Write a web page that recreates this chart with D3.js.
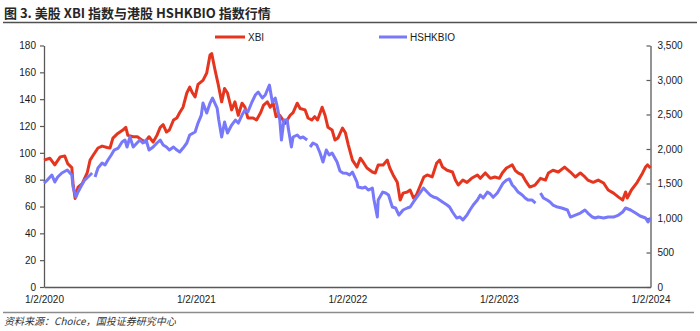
<!DOCTYPE html>
<html>
<head>
<meta charset="utf-8">
<script src="https://cdn.jsdelivr.net/npm/d3@7"></script>
<style>
  html, body { margin: 0; padding: 0; background: #fff; }
  svg { display: block; }
</style>
</head>
<body>
<svg id="chart" width="700" height="331"></svg>
<script>
// XBI index (left axis)
const xbi = [
  ["2020-01-02",94.6],["2020-01-16",96],["2020-01-28",91],["2020-02-10",97],["2020-02-21",97.6],["2020-02-28",92],
  ["2020-03-09",89],["2020-03-12",77],["2020-03-17",66],["2020-03-24",74.5],["2020-04-03",77],["2020-04-15",85],
  ["2020-04-22",94.6],["2020-04-29",98],["2020-05-11",103.6],["2020-05-21",105],["2020-06-02",104],["2020-06-09",103.6],
  ["2020-06-16",111],["2020-06-26",114],["2020-07-10",117],["2020-07-17",119],["2020-07-22",113],["2020-08-04",112],
  ["2020-08-14",112],["2020-08-25",109.5],["2020-09-01",108],["2020-09-11",112],["2020-09-21",108],["2020-09-30",113],
  ["2020-10-08",119],["2020-10-15",121],["2020-10-23",115.5],["2020-10-30",117],["2020-11-09",124.5],["2020-11-17",126],
  ["2020-11-24",130],["2020-12-02",134],["2020-12-11",144.6],["2020-12-18",149],["2020-12-24",145],["2020-12-31",141.6],
  ["2021-01-07",151],["2021-01-19",154],["2021-01-28",159.5],["2021-02-05",173],["2021-02-09",174],["2021-02-17",161.7],
  ["2021-02-24",152],["2021-03-05",138],["2021-03-12",148],["2021-03-19",144.6],["2021-03-29",132],["2021-04-06",138],
  ["2021-04-14",128],["2021-04-23",137],["2021-04-30",134],["2021-05-07",126],["2021-05-20",126],["2021-05-28",124.5],
  ["2021-06-07",130],["2021-06-14",135.6],["2021-06-23",138],["2021-06-30",134],["2021-07-07",137],["2021-07-14",127],
  ["2021-07-23",128],["2021-08-05",122],["2021-08-17",128],["2021-08-24",130],["2021-09-03",137],["2021-09-10",133],
  ["2021-09-22",132],["2021-09-29",126],["2021-10-08",124.5],["2021-10-15",127],["2021-10-22",124.5],["2021-11-02",134],
  ["2021-11-09",128],["2021-11-16",119],["2021-11-26",117],["2021-12-03",109.5],["2021-12-10",111],["2021-12-21",118.5],
  ["2021-12-28",115],["2022-01-04",106],["2022-01-14",94.6],["2022-01-25",89.4],["2022-02-02",96],["2022-02-09",93],
  ["2022-02-18",88.7],["2022-03-03",85.7],["2022-03-10",85],["2022-03-17",91],["2022-03-29",91],["2022-04-08",94.6],
  ["2022-04-14",88.7],["2022-04-22",83.5],["2022-05-02",78],["2022-05-09",64.8],["2022-05-16",70],["2022-05-26",70.8],
  ["2022-06-02",72.3],["2022-06-10",66.3],["2022-06-17",68.6],["2022-06-27",76],["2022-07-05",82],["2022-07-13",83.5],
  ["2022-07-25",82],["2022-08-05",92.4],["2022-08-12",94.6],["2022-08-19",89.4],["2022-08-30",87],["2022-09-12",85.7],
  ["2022-09-19",79.7],["2022-09-26",76],["2022-10-07",79.7],["2022-10-17",78],["2022-10-28",81],["2022-11-11",83.5],
  ["2022-11-18",81],["2022-11-30",85],["2022-12-12",81],["2022-12-23",82],["2023-01-03",81],["2023-01-10",85],
  ["2023-01-20",88.7],["2023-02-03",91],["2023-02-10",87],["2023-02-17",85],["2023-02-27",83.5],["2023-03-06",79.7],
  ["2023-03-17",74.5],["2023-03-30",76],["2023-04-12",81],["2023-04-24",79.7],["2023-05-01",85],["2023-05-12",87],
  ["2023-05-25",85.7],["2023-06-09",89.4],["2023-06-23",85.7],["2023-07-05",82],["2023-07-17",85],["2023-07-28",82],
  ["2023-08-04",79.7],["2023-08-17",78],["2023-08-29",79.7],["2023-09-11",77.5],["2023-09-22",72.3],["2023-10-05",70],
  ["2023-10-17",67],["2023-10-27",64.8],["2023-11-03",70.8],["2023-11-07",66.3],["2023-11-17",72.3],["2023-12-01",78],
  ["2023-12-14",85],["2023-12-21",89.4],["2023-12-26",91],["2024-01-02",88.7]
];

// HSHKBIO index (right axis); null marks days with no quote
const hshkbio = [
  ["2020-01-02",1507],["2020-01-10",1550],["2020-01-21",1623],["2020-01-28",1521],["2020-02-04",1594],["2020-02-14",1652],
  ["2020-02-27",1695],["2020-03-09",1623],["2020-03-12",1449],["2020-03-19",1304],["2020-03-24",1377],["2020-04-02",1478],
  ["2020-04-09",1550],["2020-04-17",1594],["2020-04-27",1652],["2020-04-29",null],["2020-05-04",1594],["2020-05-11",1724],
  ["2020-05-21",1797],["2020-05-28",1768],["2020-06-04",1840],["2020-06-12",1913],["2020-06-19",1985],["2020-06-29",2014],
  ["2020-07-08",2101],["2020-07-15",2130],["2020-07-20",2029],["2020-07-27",2174],["2020-08-04",2029],["2020-08-13",2087],
  ["2020-08-20",2130],["2020-08-27",2087],["2020-09-04",2130],["2020-09-11",1985],["2020-09-21",2029],["2020-09-30",2087],
  ["2020-10-08",2130],["2020-10-15",2058],["2020-10-23",2029],["2020-10-30",1985],["2020-11-09",2029],["2020-11-17",1985],
  ["2020-11-24",1956],["2020-12-02",2014],["2020-12-11",2087],["2020-12-18",2203],["2020-12-31",2246],["2021-01-07",2376],
  ["2021-01-15",2492],["2021-01-19",2666],["2021-01-28",2521],["2021-02-05",2666],["2021-02-11",2739],["2021-02-22",2594],
  ["2021-02-26",2420],["2021-03-05",2174],["2021-03-12",2391],["2021-03-19",2232],["2021-03-29",2347],["2021-04-07",2420],
  ["2021-04-14",2376],["2021-04-23",2492],["2021-04-30",2565],["2021-05-07",2536],["2021-05-17",2681],["2021-05-25",2782],
  ["2021-06-01",2826],["2021-06-11",2739],["2021-06-18",2782],["2021-06-23",2855],["2021-06-28",2927],["2021-07-05",2681],
  ["2021-07-12",2739],["2021-07-16",2637],["2021-07-23",2420],["2021-07-27",2130],["2021-08-02",2420],["2021-08-10",2420],
  ["2021-08-12",2318],["2021-08-20",2029],["2021-08-24",2174],["2021-09-03",2203],["2021-09-10",2159],["2021-09-17",2174],
  ["2021-09-27",2130],["2021-09-30",null],["2021-10-04",2029],["2021-10-11",2087],["2021-10-20",2058],["2021-10-28",1942],
  ["2021-11-04",1811],["2021-11-12",1985],["2021-11-19",1913],["2021-11-26",1942],["2021-12-08",1811],["2021-12-15",1680],
  ["2021-12-22",1652],["2021-12-31",1650],["2022-01-07",1623],["2022-01-14",1666],["2022-01-25",1521],["2022-01-27",1449],
  ["2022-02-07",1434],["2022-02-14",1449],["2022-02-21",1405],["2022-03-03",1434],["2022-03-07",1260],["2022-03-15",1014],
  ["2022-03-17",1260],["2022-03-28",1376],["2022-04-04",1362],["2022-04-11",1333],["2022-04-20",1159],["2022-04-28",1145],
  ["2022-05-06",1043],["2022-05-16",1116],["2022-05-26",1145],["2022-06-02",1159],["2022-06-10",1232],["2022-06-17",1290],
  ["2022-06-27",1376],["2022-07-04",1434],["2022-07-13",1376],["2022-07-20",1333],["2022-07-28",1304],["2022-08-05",1290],
  ["2022-08-12",1260],["2022-08-19",1232],["2022-08-30",1188],["2022-09-05",1159],["2022-09-12",1087],["2022-09-22",1000],
  ["2022-09-30",1014],["2022-10-07",971],["2022-10-17",1043],["2022-10-24",1116],["2022-11-01",1188],["2022-11-11",1260],
  ["2022-11-18",1333],["2022-11-25",1290],["2022-12-05",1376],["2022-12-12",1350],["2022-12-19",1300],["2022-12-29",1362],
  ["2023-01-05",1434],["2023-01-12",1507],["2023-01-20",1550],["2023-01-27",1565],["2023-02-03",1478],["2023-02-10",1434],
  ["2023-02-17",1376],["2023-02-27",1333],["2023-03-06",1290],["2023-03-13",1260],["2023-03-23",1260],["2023-03-31",1217],
  ["2023-04-05",null],["2023-04-12",1362],["2023-04-19",1290],["2023-04-28",1260],["2023-05-05",1232],["2023-05-12",1188],
  ["2023-05-23",1159],["2023-06-02",1145],["2023-06-16",1116],["2023-06-23",1014],["2023-07-05",1043],["2023-07-17",1072],
  ["2023-07-28",1116],["2023-08-04",1072],["2023-08-15",1014],["2023-08-22",1000],["2023-08-29",1014],["2023-09-11",1000],
  ["2023-09-22",1014],["2023-10-05",1014],["2023-10-17",1043],["2023-10-27",1087],["2023-11-03",1145],["2023-11-15",1116],
  ["2023-11-27",1072],["2023-12-08",1029],["2023-12-21",1000],["2023-12-27",942],["2024-01-02",1000]
];

const xTickDates = ["2020-01-02","2021-01-02","2022-01-02","2023-01-02","2024-01-02"];
const leftTicks = [0,20,40,60,80,100,120,140,160,180];
const rightTicks = [0,500,1000,1500,2000,2500,3000,3500];
const seriesNames = ["XBI","HSHKBIO"];
const titleText = "图 3. 美股 XBI 指数与港股 HSHKBIO 指数行情";
const sourceText = "资料来源：Choice，国投证券研究中心";

const RED = "#E5351F";
const BLUE = "#7878FA";
const AXIS = "#595959";
const LATIN = "'Liberation Sans', Arial, sans-serif";
const CJK = "'Noto Sans CJK SC', sans-serif";

const parse = d3.timeParse("%Y-%m-%d");
const svg = d3.select("#chart");

const plot = { left: 44, right: 650.5, top: 45.5, bottom: 287 };

const x = d3.scaleTime()
  .domain([parse(xTickDates[0]), parse(xTickDates[xTickDates.length - 1])])
  .range([plot.left, plot.right]);
const yL = d3.scaleLinear().domain([0, 180]).range([plot.bottom, plot.top]);
const yR = d3.scaleLinear().domain([0, 3500]).range([plot.bottom, plot.top]);

// header
svg.append("text")
  .attr("x", 4).attr("y", 17.5)
  .attr("font-family", CJK).attr("font-weight", 700).attr("font-size", 13)
  .attr("fill", "#262626")
  .text(titleText);
svg.append("line")
  .attr("x1", 3).attr("x2", 697).attr("y1", 22.5).attr("y2", 22.5)
  .attr("stroke", "#505050").attr("stroke-width", 1.3);

// footer
svg.append("line")
  .attr("x1", 3).attr("x2", 694).attr("y1", 312.5).attr("y2", 312.5)
  .attr("stroke", "#8c8c8c").attr("stroke-width", 1.5);
svg.append("text")
  .attr("x", 4).attr("y", 325)
  .attr("font-family", CJK).attr("font-style", "italic").attr("font-size", 10)
  .attr("fill", "#333")
  .text(sourceText);

// axes
function styleAxis(g) {
  g.select(".domain").attr("stroke", AXIS).attr("stroke-width", 1.3);
  g.selectAll(".tick line").attr("stroke", AXIS).attr("stroke-width", 1.2);
  g.selectAll(".tick text").attr("fill", "#1a1a1a")
    .attr("font-family", LATIN).attr("font-size", 10);
}

svg.append("g")
  .attr("transform", `translate(${plot.left},0)`)
  .call(d3.axisLeft(yL).tickValues(leftTicks).tickSizeInner(4).tickSizeOuter(0).tickPadding(4))
  .call(styleAxis);

svg.append("g")
  .attr("transform", `translate(${plot.right},0)`)
  .call(d3.axisRight(yR).tickValues(rightTicks).tickFormat(d3.format(",")).tickSizeInner(-4).tickSizeOuter(0).tickPadding(7))
  .call(styleAxis);

svg.append("g")
  .attr("transform", `translate(0,${plot.bottom})`)
  .call(d3.axisBottom(x).tickValues(xTickDates.map(parse)).tickFormat(d3.timeFormat("%-m/%-d/%Y"))
    .tickSize(0).tickPadding(9))
  .call(styleAxis);

// series
const lineL = d3.line()
  .x(d => x(parse(d[0]))).y(d => yL(d[1]));
const lineR = d3.line()
  .defined(d => d[1] != null)
  .x(d => x(parse(d[0]))).y(d => yR(d[1]));

svg.append("path").datum(xbi)
  .attr("d", lineL).attr("fill", "none")
  .attr("stroke", RED).attr("stroke-width", 3).attr("stroke-linejoin", "round");
svg.append("path").datum(hshkbio)
  .attr("d", lineR).attr("fill", "none")
  .attr("stroke", BLUE).attr("stroke-width", 3).attr("stroke-linejoin", "round");

// legend
const legend = [
  { name: seriesNames[0], color: RED, x0: 215, x1: 245 },
  { name: seriesNames[1], color: BLUE, x0: 379, x1: 407 }
];
const lg = svg.append("g");
legend.forEach(d => {
  lg.append("line").attr("x1", d.x0).attr("x2", d.x1).attr("y1", 37).attr("y2", 37)
    .attr("stroke", d.color).attr("stroke-width", 3);
  lg.append("text").attr("x", d.x1 + 3).attr("y", 40.5)
    .attr("font-family", LATIN).attr("font-size", 10).attr("fill", "#1a1a1a")
    .text(d.name);
});
</script>
</body>
</html>
